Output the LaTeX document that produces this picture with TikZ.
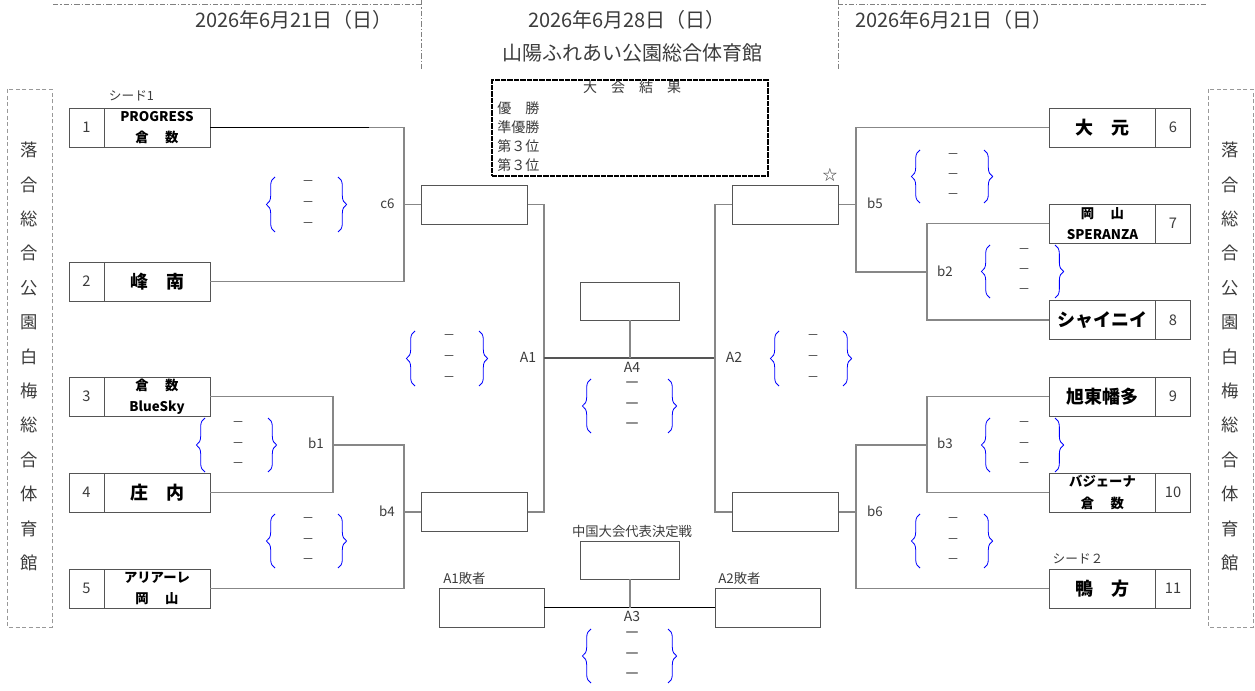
\documentclass[tikz,border=0pt]{standalone}
\usepackage{fontspec}
\setmainfont{Noto Sans CJK JP}
\usetikzlibrary{decorations.pathreplacing}
\definecolor{lnc}{RGB}{135,135,135}
\definecolor{boxc}{RGB}{85,85,85}
\definecolor{txc}{RGB}{60,60,60}
\definecolor{brc}{RGB}{0,0,255}
\newcommand\ScoreGrp[7]{%
  \draw[brc, line width=0.6pt, decorate, decoration={brace,amplitude=6.5pt}] (#2,#5) -- (#2,#4);
  \draw[brc, line width=0.6pt, decorate, decoration={brace,amplitude=6.5pt}] (#3,#4) -- (#3,#5);
  \node[#7] (#1-1) at (#6,{#4+6}) {－};
  \node[#7] (#1-2) at (#6,{(#4+#5)/2}) {－};
  \node[#7] (#1-3) at (#6,{#5-7}) {－};
}
\tikzset{
  boxbase/.style={draw=boxc, line width=0.7pt, inner sep=0pt, fill=white},
  numbox/.style={boxbase, minimum width=26.25pt, minimum height=29.25pt, font=\fontsize{11}{13}\selectfont, text=txc},
  namebox/.style={boxbase, minimum width=79.5pt, minimum height=29.25pt, font=\bfseries\fontsize{13.5}{16}\selectfont, align=center},
  nametwo/.style={namebox, font=\bfseries\fontsize{10}{16}\selectfont},
  winbox/.style={boxbase, minimum width=79.5pt, minimum height=29.25pt},
  finbox/.style={boxbase, minimum width=74.25pt, minimum height=28.5pt},
  losebox/.style={boxbase, minimum width=78.75pt, minimum height=29.25pt},
  ln/.style={draw=lnc, line width=0.9pt},
  lbl/.style={font=\fontsize{10}{12}\selectfont, text=txc, inner sep=0pt},
  albl/.style={font=\fontsize{10.5}{12}\selectfont, text=txc, inner sep=0pt},
  hdr/.style={font=\fontsize{15}{17}\selectfont, text=txc, inner sep=0pt},
  sidetxt/.style={font=\fontsize{13}{25.8}\selectfont, text=txc, align=center, inner sep=0pt},
  sdash/.style={font=\fontsize{9}{10}\selectfont, text=txc, inner sep=0pt},
  bdash/.style={font=\fontsize{12}{13}\selectfont, text=txc, inner sep=0pt},
  restxt/.style={font=\fontsize{10.5}{12}\selectfont, text=txc, inner sep=0pt},
  hline/.style={draw=gray, line width=0.6pt, dash pattern=on 4pt off 1.5pt on 1pt off 1.5pt},
  sidebox/.style={draw=gray!80, line width=0.5pt, densely dashed},
}
\begin{document}
\begin{tikzpicture}[x=0.75pt,y=-0.75pt]
\fill[white] (0,0) rectangle (1255,691);
\useasboundingbox (0,0) rectangle (1255,691);

% header frame lines
\draw[hline] (53,4) -- (421,4);
\draw[hline] (421,0) -- (421,70);
\draw[hline] (838,0) -- (838,70);
\draw[hline] (838,4) -- (1208,4);

% headers
\node[hdr] (d1) at (294,20) {2026年6月21日（日）};
\node[hdr] (d2) at (627,20) {2026年6月28日（日）};
\node[hdr] (venue) at (632,53) {山陽ふれあい公園総合体育館};
\node[hdr] (d3) at (954,20) {2026年6月21日（日）};

% side boxes
\draw[sidebox] (7,89) rectangle (52,627);
\draw[sidebox] (1208,89) rectangle (1253,627);
\node[sidetxt] (sl) at (29.5,356.5) {落\\合\\総\\合\\公\\園\\白\\梅\\総\\合\\体\\育\\館};
\node[sidetxt] (sr) at (1230.5,356.5) {落\\合\\総\\合\\公\\園\\白\\梅\\総\\合\\体\\育\\館};

% results box
\node[draw=black, line width=1.6pt, dash pattern=on 4pt off 0.8pt, minimum width=207pt, minimum height=72pt, inner sep=0pt] (res) at (630,128) {};
\node[restxt] (rtitle) at (632,87) {大　会　結　果};
\node[restxt, anchor=west] (r1) at (497,108) {優　勝};
\node[restxt, anchor=west] (r2) at (497,127) {準優勝};
\node[restxt, anchor=west] (r3) at (497,146) {第３位};
\node[restxt, anchor=west] (r4) at (497,165) {第３位};

% left teams
\node[numbox] (k1) at (86.5,127.5) {1};
\node[nametwo] (n1) at (157,127.5) {PROGRESS\\倉　 数};
\node[lbl, font=\fontsize{9.5}{11}\selectfont] (seed1) at (131.5,96) {シード1};
\node[numbox] (k2) at (86.5,281.5) {2};
\node[namebox] (n2) at (157,281.5) {峰　南};
\node[numbox] (k3) at (86.5,396.5) {3};
\node[nametwo] (n3) at (157,396.5) {倉　 数\\BlueSky};
\node[numbox] (k4) at (86.5,492.5) {4};
\node[namebox] (n4) at (157,492.5) {庄　内};
\node[numbox] (k5) at (86.5,588.5) {5};
\node[nametwo] (n5) at (157,588.5) {アリアーレ\\岡　 山};

% right teams
\node[namebox] (n6) at (1102.5,127.5) {大　元};
\node[numbox] (k6) at (1173,127.5) {6};
\node[nametwo] (n7) at (1102.5,223.5) {岡　 山\\SPERANZA};
\node[numbox] (k7) at (1173,223.5) {7};
\node[namebox] (n8) at (1102.5,320) {シャイニイ};
\node[numbox] (k8) at (1173,320) {8};
\node[namebox] (n9) at (1102.5,396.5) {旭東幡多};
\node[numbox] (k9) at (1173,396.5) {9};
\node[nametwo] (n10) at (1102.5,492.5) {バジェーナ\\倉　 数};
\node[numbox] (k10) at (1173,492.5) {10};
\node[namebox] (n11) at (1102.5,588.5) {鴨　方};
\node[numbox] (k11) at (1173,588.5) {11};
\node[lbl, font=\fontsize{9.5}{11}\selectfont] (seed2) at (1078,559) {シード２};

% winner boxes
\node[winbox] (w1) at (474.5,204.5) {};
\node[winbox] (w2) at (474.5,512) {};
\node[winbox] (w3) at (785.5,204.5) {};
\node[winbox] (w4) at (785.5,512) {};
\node[finbox] (a4box) at (630,301) {};
\node[finbox] (a3box) at (630,560) {};
\node[losebox] (l1) at (491.5,607.5) {};
\node[losebox] (l2) at (767.5,607.5) {};

% junction coordinates
\coordinate (c6) at (404,204.5);
\coordinate (b1) at (333,445);
\coordinate (b4) at (404,512);
\coordinate (A1) at (544,358);
\coordinate (A2) at (715,358);
\coordinate (A4) at (630,358);
\coordinate (b5) at (856,204.5);
\coordinate (b2) at (927,272);
\coordinate (b3) at (927,445);
\coordinate (b6) at (856,512);
\coordinate (A3) at (630,607.5);
\coordinate (t1k) at (369,127.5);

% left connectors
\draw[ln] (n1.east) -| (c6) |- (n2.east);
\draw[black, line width=0.9pt] (n1.east) -- (t1k);
\draw[ln] (c6) -- (w1.west);
\draw[ln] (n3.east) -| (b1) |- (n4.east);
\draw[ln] (b1) -| (b4) |- (n5.east);
\draw[ln] (b4) -- (w2.west);
\draw[ln] (w1.east) -| (A1);
\draw[ln] (w2.east) -| (A1);
\draw[draw=boxc, line width=0.9pt] (A1) -- (A2);
\draw[ln] (a4box.south) -- (A4);

% right connectors
\draw[ln] (w3.west) -| (A2);
\draw[ln] (w4.west) -| (A2);
\draw[ln] (w3.east) -- (b5);
\draw[ln] (n6.west) -| (b5) |- (b2);
\draw[ln] (n7.west) -| (b2) |- (n8.west);
\draw[ln] (w4.east) -- (b6);
\draw[ln] (n9.west) -| (b3) |- (n10.west);
\draw[ln] (b3) -| (b6) |- (n11.west);

% third place
\draw[black, line width=0.9pt] (l1.east) -- (l2.west);
\draw[ln] (a3box.south) -- (A3);

% labels
\node[lbl] (lc6) at (387.5,204) {c6};
\node[lbl] (lb1) at (316,443) {b1};
\node[lbl] (lb4) at (387,511) {b4};
\node[lbl] (lb5) at (875,203) {b5};
\node[lbl] (lb2) at (945,271) {b2};
\node[lbl] (lb3) at (945,443) {b3};
\node[lbl] (lb6) at (875,511) {b6};
\node[albl] (lA1) at (528,357) {A1};
\node[albl] (lA2) at (734,357) {A2};
\node[albl] (lA4) at (632,367) {A4};
\node[albl] (lA3) at (632,616) {A3};
\node[lbl] (lkind) at (632,531) {中国大会代表決定戦};
\node[lbl, anchor=west] (lL1) at (443,578) {A1敗者};
\node[lbl, anchor=west] (lL2) at (718,578) {A2敗者};
\node[lbl, font=\fontsize{11}{12}\selectfont] (star) at (830,175) {☆};

% score groups
\ScoreGrp{g1}{275}{338}{177}{232}{308}{sdash}
\ScoreGrp{g2}{205}{268}{418}{472}{238}{sdash}
\ScoreGrp{g3}{275}{338}{514}{568}{308}{sdash}
\ScoreGrp{g4}{415}{479}{331}{386}{449}{sdash}
\ScoreGrp{g5}{591}{668}{379}{433}{632}{bdash}
\ScoreGrp{g6}{591}{668}{629}{683}{632}{bdash}
\ScoreGrp{g7}{779}{843}{331}{386}{813}{sdash}
\ScoreGrp{g8}{920}{984}{150}{203}{953}{sdash}
\ScoreGrp{g9}{990}{1055}{245}{298}{1024}{sdash}
\ScoreGrp{g10}{990}{1055}{418}{472}{1024}{sdash}
\ScoreGrp{g11}{920}{984}{514}{568}{953}{sdash}
\end{tikzpicture}
\end{document}
